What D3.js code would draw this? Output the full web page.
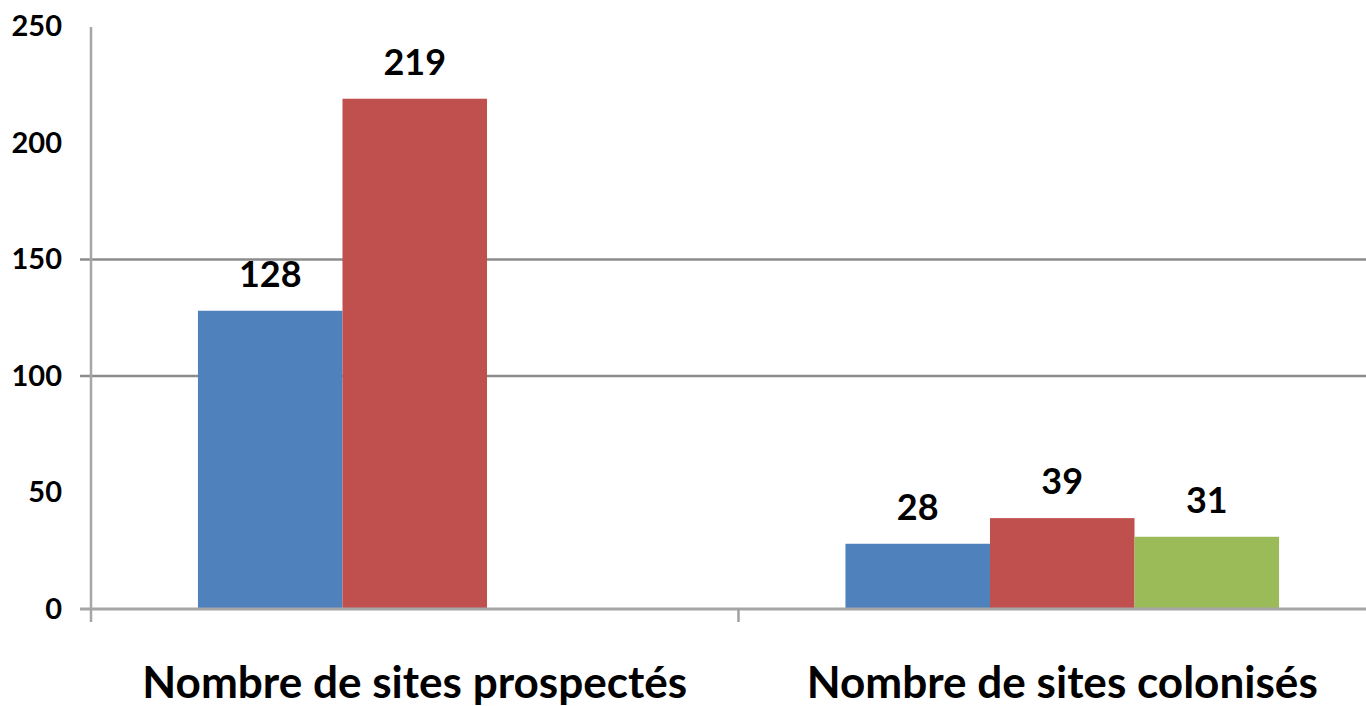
<!DOCTYPE html>
<html>
<head>
<meta charset="utf-8">
<script src="https://cdn.jsdelivr.net/npm/d3@7.9.0/dist/d3.min.js"></script>
<style>
  html, body { margin: 0; padding: 0; background: #fff; }
  svg { display: block; font-family: Lato, "Open Sans", sans-serif; }
</style>
</head>
<body>
<svg id="chart" width="1366" height="706"></svg>
<script>
// ---- data ----
const categories = ['Nombre de sites prospectés', 'Nombre de sites colonisés'];
const seriesNames = ['Série 1', 'Série 2', 'Série 3'];
const seriesColors = ['#4F81BD', '#C0504D', '#9BBB59'];
// one array per series, one value per category (null = no bar)
const serie1 = [128, 28];
const serie2 = [219, 39];
const serie3 = [null, 31];
const yTicks = [0, 50, 100, 150, 200, 250];
const gridTicks = [100, 150];   // only these gridlines show in the picture

const seriesValues = [serie1, serie2, serie3];

const svg = d3.select('#chart');

const x0 = d3.scaleBand()
  .domain(categories)
  .range([91, 1386])
  .paddingInner(0)
  .paddingOuter(0);

const x1 = d3.scaleBand()
  .domain(seriesNames)
  .range([0, x0.bandwidth()])
  .paddingInner(0)
  .paddingOuter(0.74);

const y = d3.scaleLinear()
  .domain([0, 250])
  .range([609, 26.5]);

// gridlines
svg.append('g')
  .selectAll('line')
  .data(gridTicks)
  .join('line')
  .attr('x1', 80)
  .attr('x2', 1366)
  .attr('y1', d => y(d))
  .attr('y2', d => y(d))
  .attr('stroke', '#8c8c8c')
  .attr('stroke-width', 2.5);

// bars
const rows = [];
categories.forEach((c, i) => {
  seriesNames.forEach((s, j) => {
    const v = seriesValues[j][i];
    if (v != null) rows.push({ cat: c, serie: s, value: v, color: seriesColors[j] });
  });
});

const bars = svg.append('g');
bars.selectAll('rect')
  .data(rows)
  .join('rect')
  .attr('x', d => x0(d.cat) + x1(d.serie))
  .attr('width', x1.bandwidth())
  .attr('y', d => y(d.value))
  .attr('height', d => y(0) - y(d.value))
  .attr('fill', d => d.color);

// value labels
bars.selectAll('text')
  .data(rows)
  .join('text')
  .attr('x', d => x0(d.cat) + x1(d.serie) + x1.bandwidth() / 2)
  .attr('y', d => y(d.value) - 24)
  .attr('text-anchor', 'middle')
  .attr('font-size', 36)
  .attr('font-weight', 'bold')
  .attr('fill', '#000')
  .text(d => d.value);

// y axis
const yAxis = d3.axisLeft(y)
  .tickValues(yTicks)
  .tickSize(0)
  .tickPadding(29);
const gy = svg.append('g')
  .attr('transform', 'translate(91,0)')
  .call(yAxis);
gy.select('.domain').remove();
gy.selectAll('text')
  .attr('font-size', 29)
  .attr('font-weight', 'bold')
  .attr('font-family', 'Lato, sans-serif')
  .attr('fill', '#000');

svg.append('line')
  .attr('x1', 91).attr('x2', 91)
  .attr('y1', 27).attr('y2', 622)
  .attr('stroke', '#a6a6a6')
  .attr('stroke-width', 2.5);

// x axis
const xAxis = d3.axisBottom(x0).tickSize(0).tickFormat('');
const gx = svg.append('g')
  .attr('transform', `translate(0,${y(0)})`)
  .call(xAxis);
gx.select('.domain').remove();

svg.append('line')
  .attr('x1', 80).attr('x2', 1366)
  .attr('y1', y(0)).attr('y2', y(0))
  .attr('stroke', '#a6a6a6')
  .attr('stroke-width', 3);

// category separators
svg.append('g')
  .selectAll('line')
  .data(categories.slice(1))
  .join('line')
  .attr('x1', d => x0(d)).attr('x2', d => x0(d))
  .attr('y1', y(0)).attr('y2', 622)
  .attr('stroke', '#a0a0a0')
  .attr('stroke-width', 2.5);

// category labels
const labelWidths = [545, 511];
svg.append('g')
  .selectAll('text')
  .data(categories)
  .join('text')
  .attr('x', d => x0(d) + x0.bandwidth() / 2)
  .attr('y', 698)
  .attr('text-anchor', 'middle')
  .attr('font-size', 43)
  .attr('font-weight', 'bold')
  .attr('fill', '#000')
  .attr('textLength', (d, i) => labelWidths[i])
  .attr('lengthAdjust', 'spacingAndGlyphs')
  .text(d => d);
</script>
</body>
</html>
